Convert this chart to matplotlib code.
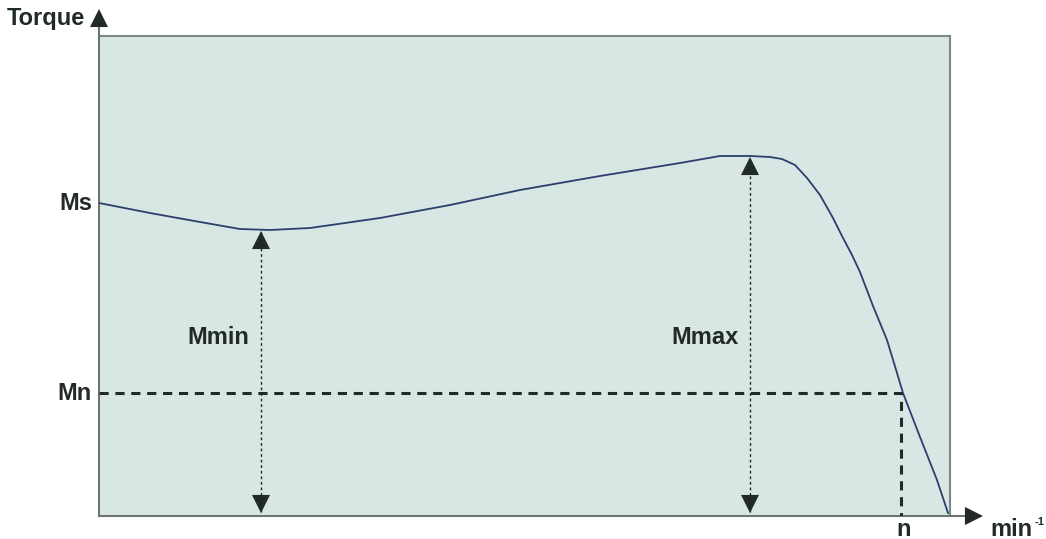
import matplotlib.pyplot as plt

# curva torque x rotação (unidades arbitrárias, origem no canto inferior esquerdo)
speed = [0, 51, 101, 141, 171, 211, 281, 351, 421, 501, 581, 621, 651, 671,
         683, 696, 708, 721, 734, 743, 753, 761, 774, 788, 798, 804, 821, 838, 849]
torque = [313, 303, 294, 287, 286, 288, 298, 311, 326, 340, 353, 360, 360, 359,
          357, 351, 338, 321, 298, 280, 261, 244, 210, 176, 143, 123, 79, 36, 3]

Ms = 313
Mn = 123
n_nom = 802
Mmin = 286
x_min = 162
Mmax = 360
x_max = 651

x_end = 851
y_end = 480

fig = plt.figure(figsize=(10.46, 5.39), dpi=100)
ax = fig.add_axes([99 / 1046, 23 / 539, 851 / 1046, 480 / 539])
ax.set_xlim(0, x_end)
ax.set_ylim(0, y_end)
ax.set_facecolor('#d9e7e4')
for s in ax.spines.values():
    s.set_visible(False)
ax.set_xticks([])
ax.set_yticks([])

txt = '#222a28'
fs = 17

# bordas superior e direita
ax.plot([0, x_end], [y_end, y_end], color='#7d8886', lw=1.5, clip_on=False)
ax.plot([x_end, x_end], [0, y_end], color='#7d8886', lw=1.5, clip_on=False)

# eixos com setas
ax.plot([0, 0], [0, 490], color='#6d7573', lw=1.5, clip_on=False)
ax.plot([0, 866], [0, 0], color='#6d7573', lw=1.5, clip_on=False)
head = dict(arrowstyle='-|>,head_length=1.0,head_width=0.5', mutation_scale=13,
            color=txt, lw=0, shrinkA=0, shrinkB=0)
ax.annotate('', xy=(0, 507), xytext=(0, 489), arrowprops=head, annotation_clip=False)
ax.annotate('', xy=(884, 0), xytext=(864, 0), arrowprops=head, annotation_clip=False)

# curva
ax.plot(speed, torque, color='#2c3f6c', lw=1.3)

# Mn e n
ax.plot([0, n_nom, n_nom], [Mn, Mn, 0], color=txt, lw=2.2, ls=(0, (3, 2.2)))

# Mmin e Mmax
for xv, yv in [(x_min, Mmin), (x_max, Mmax)]:
    ax.plot([xv, xv], [4, yv - 2], color=txt, lw=1, ls=(0, (2, 2)))
    ax.annotate('', xy=(xv, yv - 1), xytext=(xv, yv - 19), arrowprops=head)
    ax.annotate('', xy=(xv, 3), xytext=(xv, 21), arrowprops=head)

tk = dict(fontsize=fs, fontweight='bold', color=txt, family='Liberation Sans',
          clip_on=False)
ax.text(-7, Ms, 'Ms', ha='right', va='center', **tk)
ax.text(-7, Mn, 'Mn', ha='right', va='center', **tk)
ax.text(x_min - 43, 178, 'Mmin', ha='center', va='center', **tk)
ax.text(x_max - 45, 178, 'Mmax', ha='center', va='center', **tk)
ax.text(-14, 491, 'Torque', ha='right', va='baseline', **tk)
ax.text(n_nom + 3, -20, 'n', ha='center', va='baseline', **tk)
ax.text(891, -20, 'min', ha='left', va='baseline', **tk)
ax.text(936, -6, '-1', ha='left', va='center', fontsize=8, fontweight='bold',
        color=txt, family='Liberation Sans')

fig.savefig('out.png', dpi=100)
